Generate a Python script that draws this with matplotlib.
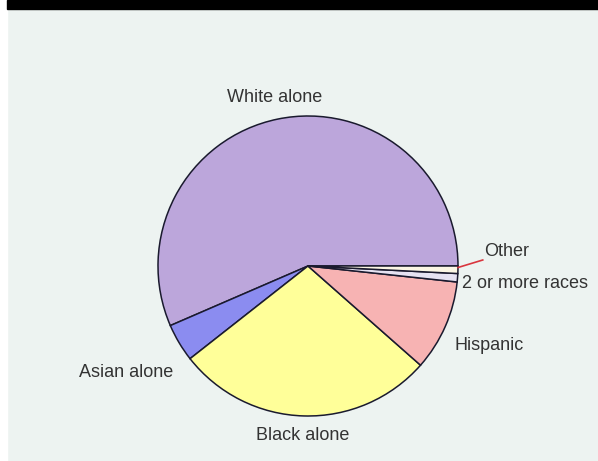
import matplotlib
matplotlib.use("Agg")
import matplotlib.pyplot as plt
from matplotlib.patches import Rectangle

# shares in percent, drawn counter-clockwise from 3 o'clock
groups = ["White alone", "Asian alone", "Black alone", "Hispanic", "2 or more races", "Other"]
shares = [56.5, 4.1, 27.9, 9.8, 0.9, 0.8]
colors = ["#bca6db", "#8b8cf0", "#ffff99", "#f7b3b3", "#e6e2f2", "#fbf6e4"]

# label anchors in pie-radius units (layout only)
label_pos = {
    "White alone": (-0.22, 1.12, "center"),
    "Asian alone": (-1.21, -0.71, "center"),
    "Black alone": (-0.035, -1.13, "center"),
    "Hispanic": (0.98, -0.53, "left"),
    "2 or more races": (1.025, -0.115, "left"),
    "Other": (1.175, 0.095, "left"),
}

W, H = 598, 461
cx, cy, R = 308, 266, 150

fig = plt.figure(figsize=(W / 100, H / 100), dpi=100)
fig.patch.set_facecolor("#edf3f1")
ax = fig.add_axes([0, 0, 1, 1])
ax.set_facecolor("#edf3f1")

ax.pie(shares, colors=colors, startangle=0, counterclock=True, radius=1.0,
       wedgeprops=dict(edgecolor="#1a1a2e", linewidth=1.1))
ax.set_aspect("auto")
ax.set_xlim(-cx / R, (W - cx) / R)
ax.set_ylim(-(H - cy) / R, cy / R)
ax.axis("off")

for g in groups:
    x, y, ha = label_pos[g]
    ax.text(x, y, g, ha=ha, va="center", fontsize=13, color="#333333",
            family="Liberation Sans")

# leader line for the tiny "Other" slice
ax.plot([1.0, 1.165], [-0.01, 0.04], color="#d9363e", lw=1.2)

# white strip at left and black title bar at top
fig.patches.append(Rectangle((0, 0), 7 / W, 1, transform=fig.transFigure,
                             color="white", zorder=0))
fig.patches.append(Rectangle((7 / W, 1 - 9 / H), 1, 9 / H, transform=fig.transFigure,
                             color="black", zorder=5))

fig.savefig("out.png", dpi=100, facecolor=fig.get_facecolor())
